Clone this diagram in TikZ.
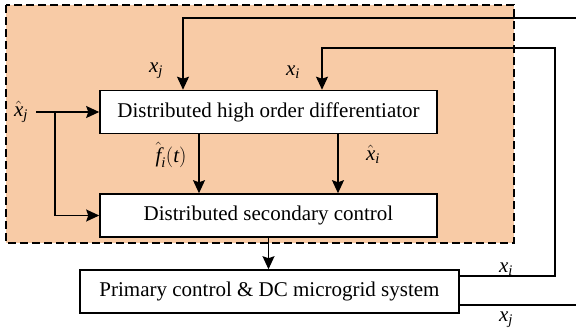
\documentclass[tikz,border=0pt]{standalone}
\usepackage{amsmath}
\usepackage{fontspec}
\setmainfont{Liberation Serif}
\usetikzlibrary{arrows.meta}
\definecolor{peach}{RGB}{248,203,166}
\newcommand\mi[1]{\text{\itshape #1}}
\begin{document}
\begin{tikzpicture}[x=1pt,y=-1pt,
  blk/.style={draw,line width=1.6pt,fill=white,minimum height=43pt,inner sep=0pt,font=\fontsize{21}{25}\selectfont},
  arr/.style={line width=1.2pt,-{Stealth[inset=2pt,length=13pt,width=12pt]}},
  ln/.style={line width=1.2pt},
  lab/.style={font=\fontsize{21}{25}\selectfont,inner sep=0pt}]
\useasboundingbox (0,0) rectangle (576,333);
\draw[fill=peach,line width=1.6pt,dash pattern=on 8pt off 4pt] (6,5) rectangle (514,243);
\node[blk,minimum width=337pt] (diff) at (268.5,112) {Distributed high order differentiator};
\node[blk,minimum width=337pt] (sec) at (268.5,215.5) {Distributed secondary control};
\node[blk,minimum width=379pt] (prim) at (269.5,291.5) {Primary control \& DC microgrid system};
\coordinate (xjin) at (576,18);
\coordinate (xjout) at (576,305);
\coordinate (xiR) at (555,276);
\coordinate (xitop) at (555,48);
\coordinate (xhj) at (36,112);
\coordinate (br) at (55,112);
\draw[arr] (xjin) -| ([xshift=-85.5pt]diff.north);
\draw[ln] (prim.east |- xjout) -- (xjout);
\draw[arr] (prim.east |- xiR) -| (xitop) -| ([xshift=53.5pt]diff.north);
\draw[arr] (xhj) -- (diff.west);
\draw[arr] (br) |- (sec.west);
\draw[arr] ([xshift=-69.5pt]diff.south) -- ([xshift=-69.5pt]sec.north);
\draw[arr] ([xshift=69.5pt]diff.south) -- ([xshift=69.5pt]sec.north);
\draw[arr] (sec.south) -- (sec.south |- prim.north);
\node[lab] (l1) at (156,71) {$\mi{x}_{\mi{j}}$};
\node[lab] (l2) at (293,72) {$\mi{x}_{\mi{i}}$};
\node[lab] (l3) at (21,112) {$\hat{\mi{x}}_{\mi{j}}$};
\node[lab] (l4) at (171,155) {$\hat{\mi{f}}_{\mi{i}}(\mi{t})$};
\node[lab] (l5) at (373,154) {$\hat{\mi{x}}_{\mi{i}}$};
\node[lab] (l6) at (506,269) {$\mi{x}_{\mi{i}}$};
\node[lab] (l7) at (506,320) {$\mi{x}_{\mi{j}}$};
\end{tikzpicture}
\end{document}
